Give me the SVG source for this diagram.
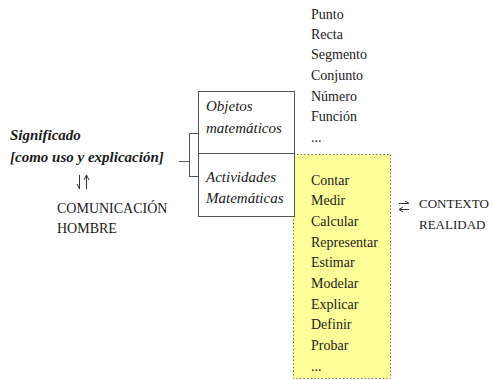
<svg xmlns="http://www.w3.org/2000/svg" width="493" height="380" viewBox="0 0 493 380">
  <style>
    .it { font-style: italic; font-size: 15px; }
    .bi { font-style: italic; font-weight: bold; font-size: 15px; }
    .box { fill: #ffffff; stroke: #555555; stroke-width: 1; }
    .line { fill: none; stroke: #555555; stroke-width: 1; }
    .arr { fill: none; stroke: #333333; stroke-width: 1; }
  </style>

  <rect width="493" height="380" fill="#ffffff"/>

  <g font-family="Liberation Serif, Times New Roman, serif" font-size="14" fill="#1a1a1a">
    <!-- activities panel -->
    <g id="actividades-lista">
      <rect x="293.5" y="154.5" width="97" height="224" fill="#ffff99" stroke="#555555" stroke-dasharray="1.2 2.4"/>
      <text x="311" y="185">Contar</text>
      <text x="311" y="205">Medir</text>
      <text x="311" y="226">Calcular</text>
      <text x="311" y="247">Representar</text>
      <text x="311" y="267">Estimar</text>
      <text x="311" y="288">Modelar</text>
      <text x="311" y="309">Explicar</text>
      <text x="311" y="329">Definir</text>
      <text x="311" y="350">Probar</text>
      <text x="311" y="371">...</text>
    </g>

    <!-- objects list -->
    <g id="objetos-lista">
      <text x="311" y="19">Punto</text>
      <text x="311" y="39">Recta</text>
      <text x="311" y="59">Segmento</text>
      <text x="311" y="80">Conjunto</text>
      <text x="311" y="101">Número</text>
      <text x="311" y="121">Función</text>
      <text x="311" y="142">...</text>
    </g>

    <g id="objetos">
      <rect class="box" x="198.5" y="91.5" width="96" height="62"/>
      <text class="it" x="206" y="111">Objetos</text>
      <text class="it" x="206" y="133">matemáticos</text>
    </g>

    <g id="actividades">
      <rect class="box" x="198.5" y="153.5" width="96" height="63"/>
      <text class="it" x="206" y="182">Actividades</text>
      <text class="it" x="206" y="203">Matemáticas</text>
    </g>

    <g id="significado">
      <text class="bi" x="10" y="140">Significado</text>
      <text class="bi" x="10" y="162">[como uso y explicación]</text>
    </g>

    <g id="comunicacion">
      <text x="57" y="213">COMUNICACIÓN</text>
      <text x="57" y="233">HOMBRE</text>
    </g>

    <g id="contexto" font-size="13">
      <text x="419" y="208">CONTEXTO</text>
      <text x="419" y="229">REALIDAD</text>
    </g>
  </g>

  <!-- connectors -->
  <g id="conectores">
    <path class="line" d="M179 161.5 H189.5 M189.5 133 V177 M189.5 133.5 H198 M189.5 176.5 H198"/>
    <!-- vertical harpoons -->
    <path class="arr" d="M79.5 175 V189 M79.5 189 L77 184"/>
    <path class="arr" d="M86.5 189 V175 M86.5 175 L84 180 M86.5 175 L89 180"/>
    <!-- horizontal harpoons -->
    <path class="arr" d="M399 203.5 H409 M409 203.5 L405 201"/>
    <path class="arr" d="M409 209.5 H399 M399 209.5 L403 207 M399 209.5 L403 212"/>
  </g>
</svg>
